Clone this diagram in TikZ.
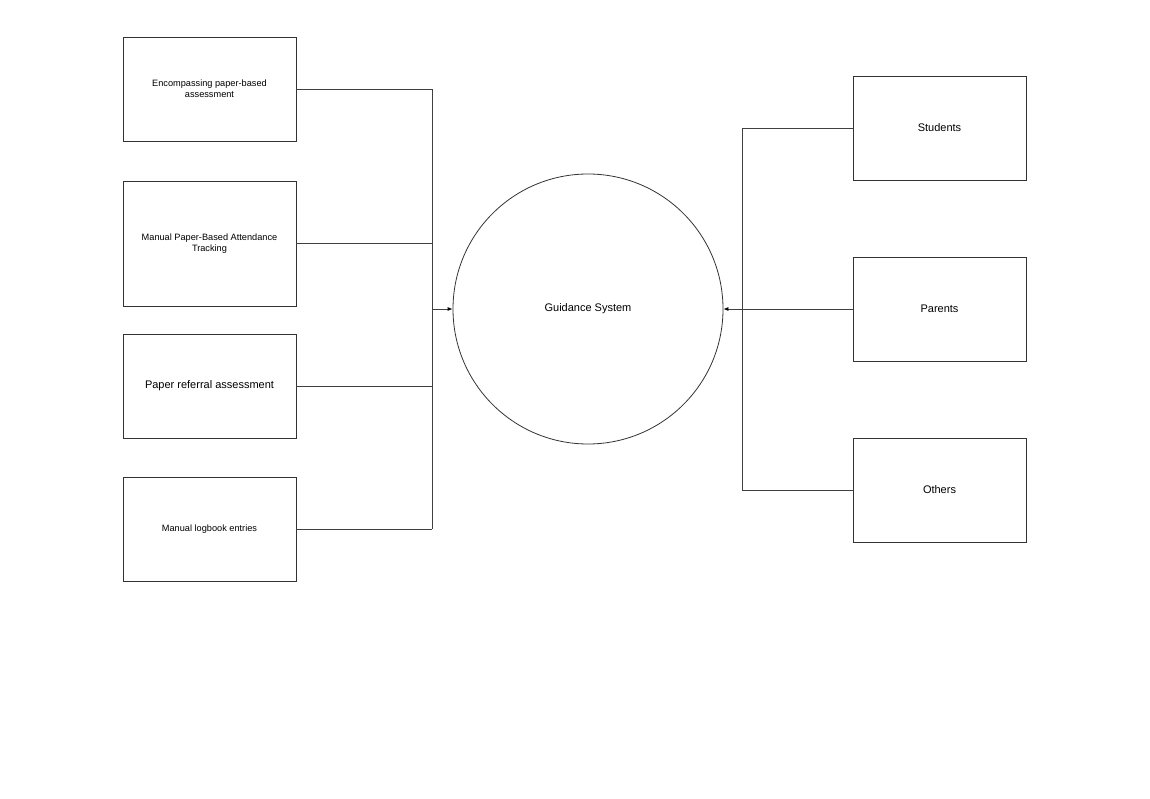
\documentclass[tikz,border=0pt]{standalone}
\usepackage{fontspec}
\setmainfont{Liberation Sans}
\usetikzlibrary{arrows.meta}
\begin{document}
\begin{tikzpicture}[x=1pt,y=-1pt,
  box/.style={draw=black!80,line width=0.8pt,minimum width=173pt,inner sep=0pt,align=center},
  small/.style={font=\fontsize{9.2}{11}\selectfont},
  big/.style={font=\fontsize{11}{13}\selectfont},
  conn/.style={draw=black!75,line width=0.8pt},
  arr/.style={conn,-{Latex[length=5pt,width=4pt,color=black]}}]
\useasboundingbox (0,0) rectangle (1150,799);
\fill[white] (0,0) rectangle (1150,799);
% left boxes
\node[box,small,minimum height=104pt] (b1) at (209.5,89) {Encompassing paper-based\\assessment};
\node[box,small,minimum height=125pt] (b2) at (209.5,243.5) {Manual Paper-Based Attendance\\Tracking};
\node[box,big,minimum height=104pt] (b3) at (209.5,386) {Paper referral assessment};
\node[box,small,minimum height=104pt] (b4) at (209.5,529) {Manual logbook entries};
% circle
\node[draw=black!80,line width=0.8pt,circle,minimum size=270pt,inner sep=0pt,big] (gs) at (588,309) {Guidance System};
% right boxes
\node[box,big,minimum height=104pt] (st) at (939.5,128) {Students};
\node[box,big,minimum height=104pt] (pa) at (939.5,309) {Parents};
\node[box,big,minimum height=104pt] (ot) at (939.5,490) {Others};
% junctions
\coordinate (jl1) at (432,89);
\coordinate (jl4) at (432,529);
\coordinate (jlm) at (432,309);
\coordinate (jr1) at (742,128);
\coordinate (jr3) at (742,490);
% left connectors
\draw[conn] (b1.east) -- (jl1) -- (jl4);
\draw[conn] (b2.east |- 0,243) -- (432,243);
\draw[conn] (b3.east) -- (432,386);
\draw[conn] (b4.east) -- (jl4);
\draw[arr] (jlm) -- (gs.west);
% right connectors
\draw[conn] (st.west) -- (jr1) -- (jr3) -- (ot.west);
\draw[arr] (pa.west) -- (gs.east);
\end{tikzpicture}
\end{document}
